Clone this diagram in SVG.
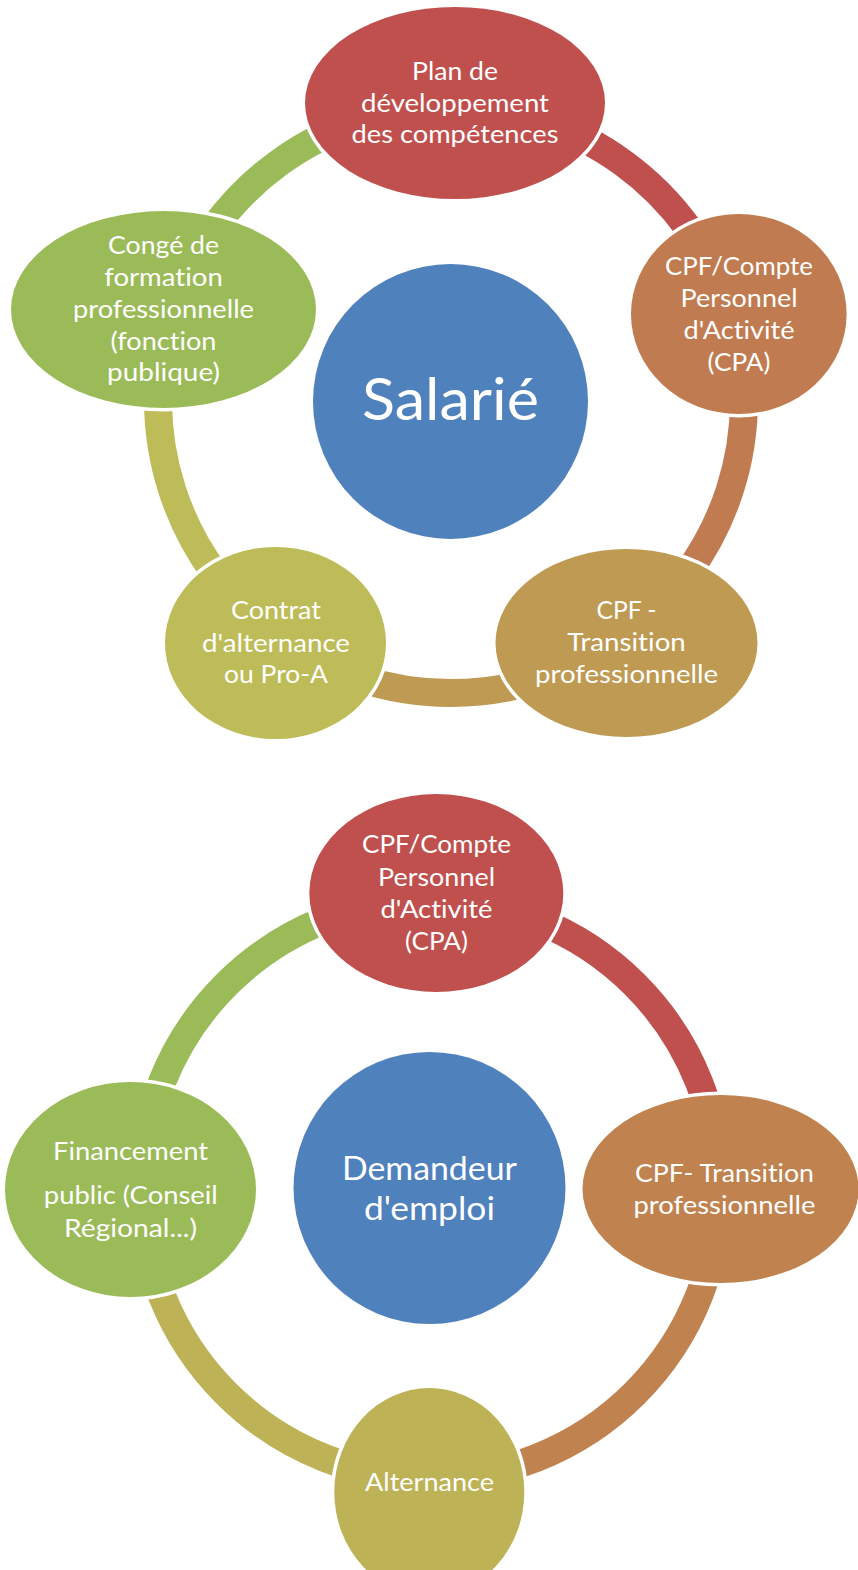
<svg xmlns="http://www.w3.org/2000/svg" width="858" height="1570" viewBox="0 0 858 1570">
<style>
.bg{fill:#ffffff}
.arc{fill:none;stroke-width:28}
.node{stroke:#ffffff;stroke-width:7;paint-order:stroke}
.hub{stroke:none}
.t{font-family:Lato,"Liberation Sans","DejaVu Sans",sans-serif;fill:#ffffff;text-anchor:middle;font-size:25.5px;font-variant-ligatures:none;font-feature-settings:"liga" 0,"clig" 0}
.big{font-size:58px}
.mid{font-size:32.5px}
</style>
<rect class="bg" x="0" y="0" width="858" height="1570"/>

<g id="connectors">
  <path class="arc" stroke="#C0504D" d="M451 107 A293 293 0 0 1 729.66 309.46"/>
  <path class="arc" stroke="#C07B50" d="M729.66 309.46 A293 293 0 0 1 623.22 637.04"/>
  <path class="arc" stroke="#BE9A52" d="M623.22 637.04 A293 293 0 0 1 278.78 637.04"/>
  <path class="arc" stroke="#BDBC58" d="M278.78 637.04 A293 293 0 0 1 172.34 309.46"/>
  <path class="arc" stroke="#9BBB59" d="M172.34 309.46 A293 293 0 0 1 451 107"/>

  <path class="arc" stroke="#C0504D" d="M430.5 900 A289 289 0 0 1 719.5 1189"/>
  <path class="arc" stroke="#C08350" d="M719.5 1189 A289 289 0 0 1 430.5 1478"/>
  <path class="arc" stroke="#BEB256" d="M430.5 1478 A289 289 0 0 1 141.5 1189"/>
  <path class="arc" stroke="#9BBB59" d="M141.5 1189 A289 289 0 0 1 430.5 900"/>
</g>

<g id="salarie">
  <circle class="hub" cx="450.5" cy="401.5" r="137.5" fill="#4F81BD"/>
  <text class="t big" x="450.5" y="420" textLength="177" lengthAdjust="spacingAndGlyphs">Salarié</text>
</g>

<g id="plan">
  <ellipse class="node" cx="455" cy="103" rx="150" ry="96" fill="#C0504D"/>
  <text class="t" x="455" y="80" textLength="86" lengthAdjust="spacingAndGlyphs">Plan de</text>
  <text class="t" x="455" y="111.5" textLength="188" lengthAdjust="spacingAndGlyphs">développement</text>
  <text class="t" x="455" y="143.3" textLength="207" lengthAdjust="spacingAndGlyphs">des compétences</text>
</g>

<g id="cpf-cpa">
  <ellipse class="node" cx="738.8" cy="314" rx="107.8" ry="100" fill="#C07B50"/>
  <text class="t" x="739" y="274.5" textLength="148" lengthAdjust="spacingAndGlyphs">CPF/Compte</text>
  <text class="t" x="739" y="306.8" textLength="117" lengthAdjust="spacingAndGlyphs">Personnel</text>
  <text class="t" x="739" y="339.1" textLength="111" lengthAdjust="spacingAndGlyphs">d'Activité</text>
  <text class="t" x="739" y="371.4" textLength="63" lengthAdjust="spacingAndGlyphs">(CPA)</text>
</g>

<g id="cpf-transition">
  <ellipse class="node" cx="626.5" cy="643" rx="131" ry="94" fill="#BE9A52"/>
  <text class="t" x="626.5" y="619" textLength="60" lengthAdjust="spacingAndGlyphs">CPF -</text>
  <text class="t" x="626.5" y="651" textLength="118.5" lengthAdjust="spacingAndGlyphs">Transition</text>
  <text class="t" x="626.5" y="683" textLength="183" lengthAdjust="spacingAndGlyphs">professionnelle</text>
</g>

<g id="contrat">
  <ellipse class="node" cx="275.5" cy="643" rx="110.5" ry="96" fill="#BDBC58"/>
  <text class="t" x="276" y="619.3" textLength="90" lengthAdjust="spacingAndGlyphs">Contrat</text>
  <text class="t" x="276" y="651.7" textLength="148" lengthAdjust="spacingAndGlyphs">d'alternance</text>
  <text class="t" x="276" y="683.3" textLength="104" lengthAdjust="spacingAndGlyphs">ou Pro-A</text>
</g>

<g id="conge">
  <ellipse class="node" cx="163.5" cy="309.5" rx="152.5" ry="98.5" fill="#9BBB59"/>
  <text class="t" x="163.5" y="254" textLength="111" lengthAdjust="spacingAndGlyphs">Congé de</text>
  <text class="t" x="163.5" y="286" textLength="118.5" lengthAdjust="spacingAndGlyphs">formation</text>
  <text class="t" x="163.5" y="317.5" textLength="181" lengthAdjust="spacingAndGlyphs">professionnelle</text>
  <text class="t" x="163.5" y="349.5" textLength="106" lengthAdjust="spacingAndGlyphs">(fonction</text>
  <text class="t" x="163.5" y="381" textLength="113" lengthAdjust="spacingAndGlyphs">publique)</text>
</g>

<g id="demandeur">
  <circle class="hub" cx="429.5" cy="1188" r="136" fill="#4F81BD"/>
  <text class="t mid" x="429.4" y="1180" textLength="175" lengthAdjust="spacingAndGlyphs">Demandeur</text>
  <text class="t mid" x="429.4" y="1219.6" textLength="131" lengthAdjust="spacingAndGlyphs">d'emploi</text>
</g>

<g id="cpf-cpa-2">
  <ellipse class="node" cx="436.3" cy="893" rx="127" ry="99" fill="#C0504D"/>
  <text class="t" x="436.5" y="853.3" textLength="149" lengthAdjust="spacingAndGlyphs">CPF/Compte</text>
  <text class="t" x="436.5" y="886" textLength="117" lengthAdjust="spacingAndGlyphs">Personnel</text>
  <text class="t" x="436.5" y="918" textLength="112" lengthAdjust="spacingAndGlyphs">d'Activité</text>
  <text class="t" x="436.5" y="949.5" textLength="63" lengthAdjust="spacingAndGlyphs">(CPA)</text>
</g>

<g id="cpf-transition-2">
  <ellipse class="node" cx="720.5" cy="1189" rx="138" ry="94" fill="#C08350"/>
  <text class="t" x="724.5" y="1182" textLength="179" lengthAdjust="spacingAndGlyphs">CPF- Transition</text>
  <text class="t" x="724.5" y="1214" textLength="182" lengthAdjust="spacingAndGlyphs">professionnelle</text>
</g>

<g id="alternance">
  <ellipse class="node" cx="429.3" cy="1492" rx="95" ry="104" fill="#BEB256"/>
  <text class="t" x="429.5" y="1490.7" textLength="129" lengthAdjust="spacingAndGlyphs">Alternance</text>
</g>

<g id="financement">
  <ellipse class="node" cx="130.5" cy="1189.5" rx="125.5" ry="107.5" fill="#9BBB59"/>
  <text class="t" x="130.5" y="1160" textLength="155" lengthAdjust="spacingAndGlyphs">Financement</text>
  <text class="t" x="130.8" y="1204" textLength="174" lengthAdjust="spacingAndGlyphs">public (Conseil</text>
  <text class="t" x="130.5" y="1236.7" textLength="133" lengthAdjust="spacingAndGlyphs">Régional...)</text>
</g>
</svg>
